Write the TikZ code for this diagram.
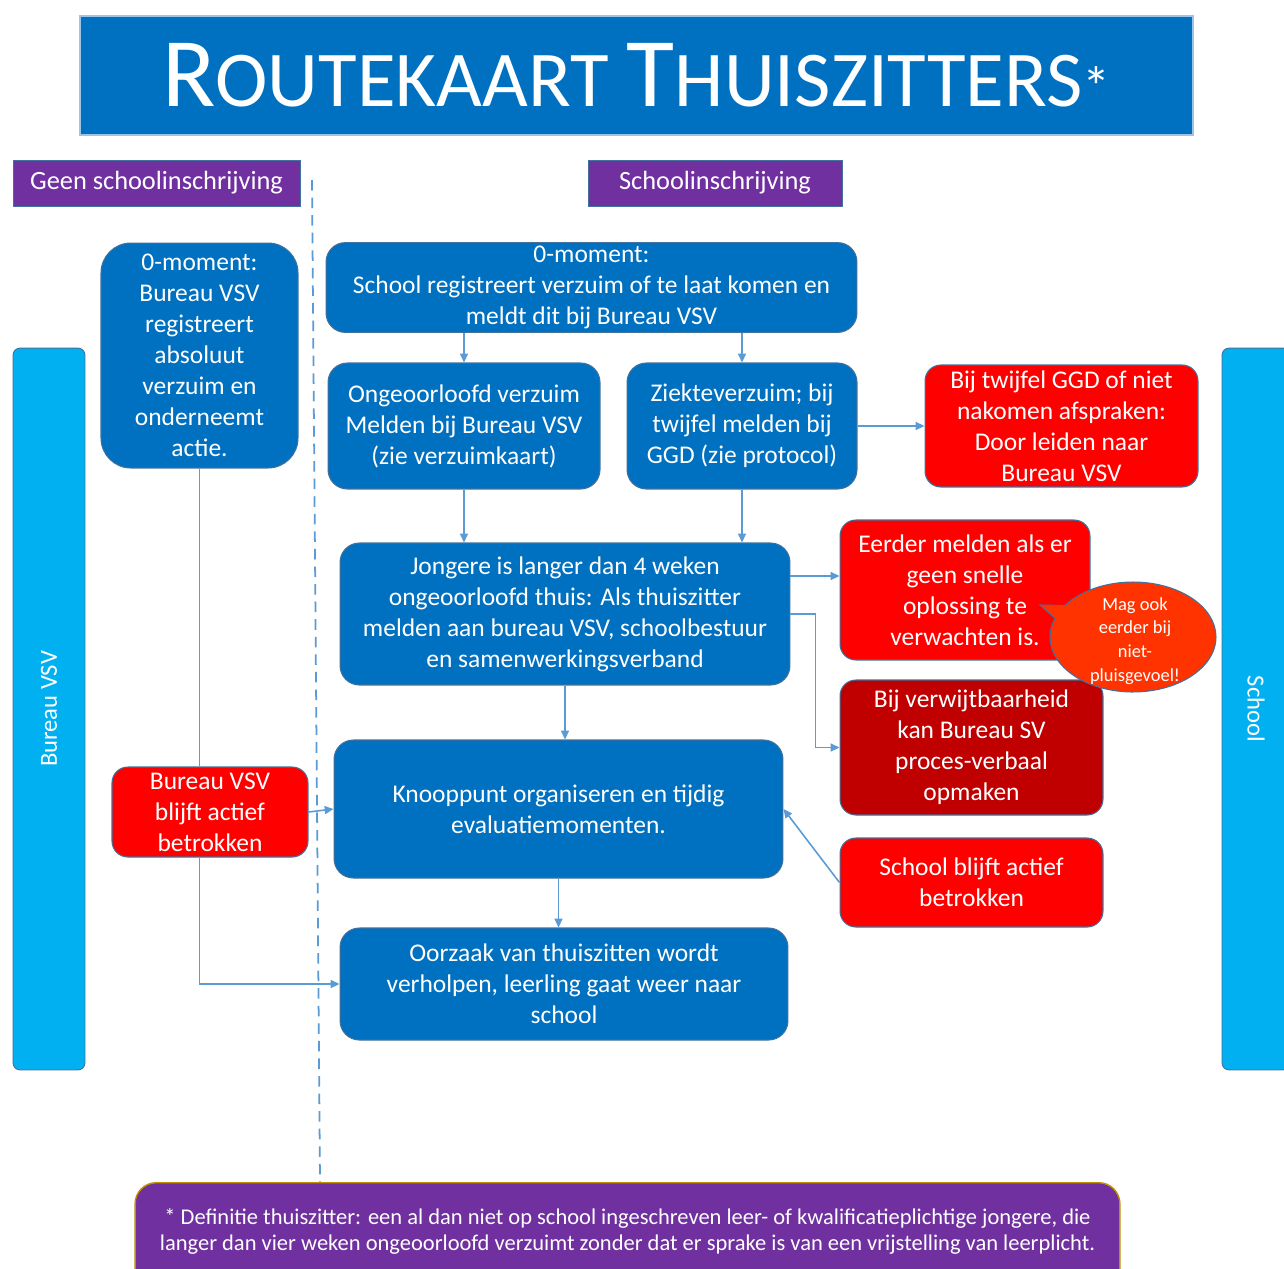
\documentclass[tikz,border=0pt]{standalone}
\usepackage{fontspec}
\setmainfont{Carlito}
\usetikzlibrary{positioning,shapes.callouts,arrows.meta}

\definecolor{vsvblue}{HTML}{0070C0}
\definecolor{barblue}{HTML}{00B0F0}
\definecolor{lineblue}{HTML}{5B9BD5}
\definecolor{edgeblue}{HTML}{41719C}
\definecolor{kopPaars}{HTML}{7030A0}
\definecolor{felrood}{HTML}{FF0000}
\definecolor{donkerrood}{HTML}{C00000}
\definecolor{oranjerood}{HTML}{FF3300}
\definecolor{goud}{HTML}{BF9000}

\newcommand{\boxfont}{\fontsize{14.5}{17.6}\selectfont}
\newcommand{\grootkap}{\fontsize{56}{60}\selectfont}
\newcommand{\kleinkap}{\fontsize{45}{50}\selectfont}

\begin{document}
\begin{tikzpicture}[x=0.02cm,y=-0.02cm,
    >={Triangle[length=5pt,width=4.5pt]},
    blok/.style={draw=edgeblue,line width=0.6pt,fill=vsvblue,text=white,
      rounded corners=11pt,align=center,font=\boxfont,inner sep=2pt},
    roodblok/.style={blok,fill=felrood,rounded corners=9pt},
    kop/.style={draw=edgeblue,line width=0.5pt,fill=kopPaars,text=white,
      font=\fontsize{15}{18}\selectfont,inner sep=0pt},
    balk/.style={fill=barblue,draw=edgeblue,line width=0.5pt,rounded corners=4pt,
      text=white,font=\fontsize{14}{16}\selectfont,inner sep=0pt},
    conn/.style={draw=lineblue,line width=0.9pt}]
  \clip (0,0) rectangle (1284,1268);
  \fill[white] (0,0) rectangle (1284,1268);

  % titel en kopjes
  \node[fill=vsvblue,draw=lineblue!60,line width=1pt,text=white,
    minimum width=22.26cm,minimum height=2.38cm] (titel) at (636.5,75.5)
    {{\grootkap R}{\kleinkap OUTEKAART }{\grootkap T}{\kleinkap HUISZITTERS}{\fontsize{32}{32}\selectfont *}};
  \node[kop,minimum width=5.74cm,minimum height=0.92cm] (geen) at (156.5,183) {Geen schoolinschrijving};
  \node[kop,minimum width=5.08cm,minimum height=0.92cm] (wel) at (715,183) {Schoolinschrijving};

  % scheidslijn
  \coordinate (dboven) at (312,180);
  \coordinate (donder) at (320,1182);
  \draw[lineblue,line width=1pt,dash pattern=on 6pt off 4pt] (dboven) -- (donder);

  % zijbalken
  \node[balk,rotate=90,minimum width=14.44cm,minimum height=1.44cm] (vsvbalk) at (49,709) {Bureau VSV};
  \node[balk,rotate=-90,minimum width=14.44cm,minimum height=1.36cm] (schoolbalk) at (1256,709) {School};

  % blokken
  \node[blok,rounded corners=17pt,minimum width=3.94cm,minimum height=4.5cm] (nulvsv) at (199.5,355.5)
    {0-moment:\\Bureau VSV\\registreert\\absoluut\\verzuim en\\onderneemt\\actie.};
  \node[blok,minimum width=10.62cm,minimum height=1.78cm] (nulschool) at (591.5,287.5)
    {0-moment:\\School registreert verzuim of te laat komen en\\meldt dit bij Bureau VSV};
  \node[blok,minimum width=5.44cm,minimum height=2.52cm] (ongeoorl) at (464,426)
    {Ongeoorloofd verzuim\\Melden bij Bureau VSV\\(zie verzuimkaart)};
  \node[blok,minimum width=4.6cm,minimum height=2.52cm] (ziekte) at (742,426)
    {Ziekteverzuim; bij\\twijfel melden bij\\GGD (zie protocol)};
  \node[roodblok,minimum width=5.46cm,minimum height=2.44cm] (twijfel) at (1061.5,426)
    {Bij twijfel GGD of niet\\nakomen afspraken:\\Door leiden naar\\Bureau VSV};
  \node[blok,minimum width=9cm,minimum height=2.84cm] (jongere) at (565,614)
    {Jongere is langer dan 4 weken\\ongeoorloofd thuis: Als thuiszitter\\melden aan bureau VSV, schoolbestuur\\en samenwerkingsverband};
  \node[roodblok,minimum width=5cm,minimum height=2.8cm] (eerder) at (965,590)
    {Eerder melden als er\\geen snelle\\oplossing te\\verwachten is.};
  \node[roodblok,fill=donkerrood,minimum width=5.26cm,minimum height=2.7cm] (verwijt) at (971.5,747.5)
    {Bij verwijtbaarheid\\kan Bureau SV\\proces-verbaal\\opmaken};
  \node[roodblok,minimum width=3.92cm,minimum height=1.8cm] (vsvactief) at (210,812)
    {Bureau VSV\\blijft actief\\betrokken};
  \node[blok,minimum width=8.98cm,minimum height=2.76cm] (knooppunt) at (558.5,809)
    {Knooppunt organiseren en tijdig\\evaluatiemomenten.};
  \node[roodblok,minimum width=5.26cm,minimum height=1.78cm] (schoolactief) at (971.5,882.5)
    {School blijft actief\\betrokken};
  \node[blok,minimum width=8.96cm,minimum height=2.24cm] (oorzaak) at (564,984)
    {Oorzaak van thuiszitten wordt\\verholpen, leerling gaat weer naar\\school};

  % verbindingen
  \draw[conn,->] (ongeoorl.north |- nulschool.south) -- (ongeoorl.north);
  \draw[conn,->] (ziekte.north |- nulschool.south) -- (ziekte.north);
  \draw[conn,->] (ongeoorl.south) -- (ongeoorl.south |- jongere.north);
  \draw[conn,->] (ziekte.south) -- (ziekte.south |- jongere.north);
  \draw[conn,->] (ziekte.east) -- (twijfel.west);
  \draw[conn,->] (jongere.east |- 0,576) -- (eerder.west |- 0,576);
  \draw[conn,->] (jongere.east) -- ++(25,0) |- (verwijt.west);
  \draw[conn,->] (jongere.south) -- (jongere.south |- knooppunt.north);
  \draw[conn,->] (knooppunt.south) -- (knooppunt.south |- oorzaak.north);
  \draw[conn,->] (schoolactief.west) -- (knooppunt.east);
  \draw[conn,->] (vsvactief.east) -- (knooppunt.west);
  \draw[conn] (nulvsv.south) -- (nulvsv.south |- vsvactief.north);
  \draw[conn,->] (nulvsv.south |- vsvactief.south) |- (oorzaak.west);

  % tekstwolk
  \node[ellipse callout,fill=oranjerood,draw=edgeblue,line width=0.6pt,
    minimum width=3.32cm,minimum height=2.2cm,inner sep=0pt,
    callout absolute pointer={(1040,605)}] (wolk) at (1133,637) {};
  \node[text=white,align=center,inner sep=0pt,font=\fontsize{10.5}{13.5}\selectfont] (wolktekst) at (1135,641)
    {Mag ook\\eerder bij\\niet-\\pluisgevoel!};

  % definitie
  \node[anchor=north,fill=kopPaars,draw=goud,line width=0.8pt,rounded corners=12pt,text=white,align=center,
    minimum width=19.7cm,inner ysep=0.52cm,text depth=1.4cm,font=\fontsize{12.8}{14.7}\selectfont] (definitie) at (627.5,1182)
    {* Definitie thuiszitter: een al dan niet op school ingeschreven leer- of kwalificatieplichtige jongere, die\\langer dan vier weken ongeoorloofd verzuimt zonder dat er sprake is van een vrijstelling van leerplicht.};
\end{tikzpicture}
\end{document}
